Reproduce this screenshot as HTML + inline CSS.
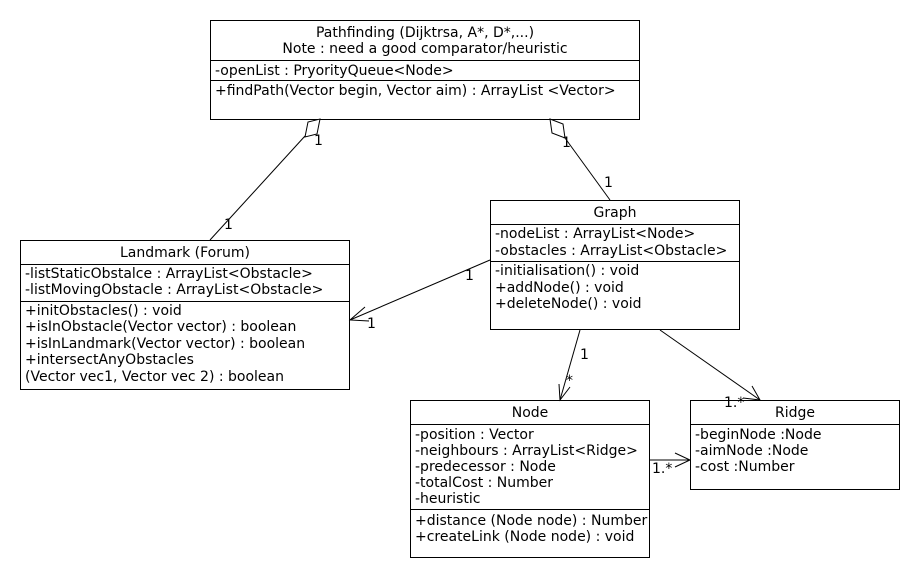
<!DOCTYPE html>
<html><head><style>html,body{margin:0;padding:0;background:#fff}svg{display:block}text{font-family:"DejaVu Sans","Liberation Sans",sans-serif;font-size:14px;fill:#000}</style></head><body>
<svg width="920" height="580" xmlns="http://www.w3.org/2000/svg">
<g fill="#fff" stroke="#000" stroke-width="1">
<rect x="210.5" y="20.5" width="429" height="99"/>
<line x1="210" y1="60.5" x2="639" y2="60.5"/>
<line x1="210" y1="80.5" x2="639" y2="80.5"/>
<rect x="20.5" y="240.5" width="329" height="149"/>
<line x1="20" y1="264.5" x2="349" y2="264.5"/>
<line x1="20" y1="301.5" x2="349" y2="301.5"/>
<rect x="490.5" y="200.5" width="249" height="129"/>
<line x1="490" y1="224.5" x2="739" y2="224.5"/>
<line x1="490" y1="261.5" x2="739" y2="261.5"/>
<rect x="410.5" y="400.5" width="239" height="157"/>
<line x1="410" y1="424.5" x2="649" y2="424.5"/>
<line x1="410" y1="509.5" x2="649" y2="509.5"/>
<rect x="690.5" y="400.5" width="209" height="89"/>
<line x1="690" y1="424.5" x2="899" y2="424.5"/>
</g>
<g fill="none" stroke="#000" stroke-width="1">
<line x1="210" y1="240" x2="305" y2="136"/>
<polygon fill="#fff" points="320,119 317,134 305,137 308,122"/>
<line x1="610" y1="200" x2="565" y2="138"/>
<polygon fill="#fff" points="550,119 563,124 565,138 552,133"/>
<line x1="490" y1="260" x2="350" y2="320"/>
<polyline points="365,307 350,320 369,321"/>
<line x1="580" y1="330" x2="560" y2="400"/>
<polyline points="559,384 560,400 570,387"/>
<line x1="660" y1="330" x2="760" y2="400"/>
<polyline points="743,398 760,400 752,386"/>
<line x1="650" y1="460" x2="690" y2="460"/>
<polyline points="675,453 690,460 675,467"/>
</g>
<g text-anchor="middle">
<text x="425" y="37">Pathfinding (Dijktrsa, A*, D*,...)</text>
<text x="425" y="53">Note : need a good comparator/heuristic</text>
<text x="185" y="257">Landmark (Forum)</text>
<text x="615" y="217">Graph</text>
<text x="530" y="417">Node</text>
<text x="795" y="417">Ridge</text>
</g>
<text x="215" y="75">-openList : PryorityQueue&lt;Node&gt;</text>
<text x="215" y="95">+findPath(Vector begin, Vector aim) : ArrayList &lt;Vector&gt;</text>
<text x="25" y="278">-listStaticObstalce : ArrayList&lt;Obstacle&gt;</text>
<text x="25" y="294">-listMovingObstacle : ArrayList&lt;Obstacle&gt;</text>
<text x="25" y="315">+initObstacles() : void</text>
<text x="25" y="331">+isInObstacle(Vector vector) : boolean</text>
<text x="25" y="348">+isInLandmark(Vector vector) : boolean</text>
<text x="25" y="364">+intersectAnyObstacles</text>
<text x="25" y="381">(Vector vec1, Vector vec 2) : boolean</text>
<text x="495" y="238">-nodeList : ArrayList&lt;Node&gt;</text>
<text x="495" y="255">-obstacles : ArrayList&lt;Obstacle&gt;</text>
<text x="495" y="275">-initialisation() : void</text>
<text x="495" y="292">+addNode() : void</text>
<text x="495" y="308">+deleteNode() : void</text>
<text x="415" y="439">-position : Vector</text>
<text x="415" y="455">-neighbours : ArrayList&lt;Ridge&gt;</text>
<text x="415" y="471">-predecessor : Node</text>
<text x="415" y="487">-totalCost : Number</text>
<text x="415" y="503">-heuristic</text>
<text x="415" y="525">+distance (Node node) : Number</text>
<text x="415" y="541">+createLink (Node node) : void</text>
<text x="695" y="439">-beginNode :Node</text>
<text x="695" y="455">-aimNode :Node</text>
<text x="695" y="471">-cost :Number</text>
<text x="314" y="145">1</text>
<text x="224" y="229">1</text>
<text x="562" y="147">1</text>
<text x="604" y="187">1</text>
<text x="465" y="280">1</text>
<text x="367" y="328">1</text>
<text x="580" y="359">1</text>
<text x="566" y="385">*</text>
<text x="724" y="407">1.*</text>
<text x="652" y="473">1.*</text>
</svg>
</body></html>
